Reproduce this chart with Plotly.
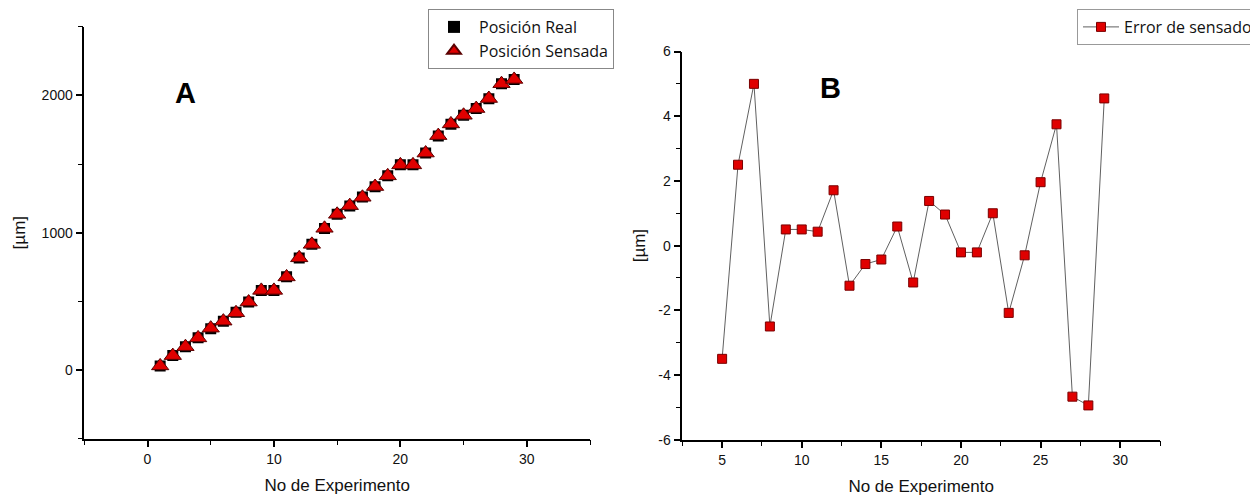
import plotly.graph_objects as go

# ---- Data ----
experimento_A = list(range(1, 30))
posicion_real = [30, 105, 170, 235, 300, 355, 420, 495, 580, 580, 680, 815, 915, 1030,
                 1135, 1195, 1260, 1335, 1415, 1495, 1495, 1580, 1705, 1790, 1855, 1905,
                 1975, 2085, 2115]
posicion_sensada = [30, 105, 170, 234, 305, 356, 417, 495, 580, 580, 678, 817, 915, 1032,
                    1134, 1197, 1258, 1336, 1414, 1494, 1494, 1580, 1707, 1792, 1855, 1904,
                    1977, 2085, 2116]

experimento_B = list(range(5, 30))
error_sensado = [-3.5, 2.5, 5.0, -2.5, 0.5, 0.5, 0.43, 1.71, -1.24, -0.57, -0.43, 0.59,
                 -1.14, 1.38, 0.96, -0.21, -0.21, 1.0, -2.08, -0.3, 1.96, 3.75, -4.67,
                 -4.94, 4.55]

# tick labels of panel B's y axis (hyphen-minus as in the original)
y2_tickvals = [-6, -4, -2, 0, 2, 4, 6]
y2_ticktext = ["-6", "-4", "-2", "0", "2", "4", "6"]

# The page body has an 8px margin, so the figure starts at (8, 8) in the window.
OFF = 8
W, H = 1258 - OFF, 499 - OFF
FONT = "Liberation Sans, Arial, sans-serif"
LEGFONT = "Open Sans, DejaVu Sans, sans-serif"


def px(x):
    return (x - OFF) / W


def py(y):
    return 1 - (y - OFF) / H


fig = go.Figure()

fig.add_trace(go.Scatter(
    x=experimento_A, y=posicion_real, mode="markers", name="Posición Real",
    marker=dict(symbol="square", size=11, color="black", line=dict(width=0)),
    xaxis="x", yaxis="y", legend="legend"))
fig.add_trace(go.Scatter(
    x=experimento_A, y=posicion_sensada, mode="markers", name="Posición Sensada",
    marker=dict(symbol="triangle-up", size=15, color="#e00000",
                line=dict(width=1, color="#5a0000")),
    xaxis="x", yaxis="y", legend="legend"))
fig.add_trace(go.Scatter(
    x=experimento_B, y=error_sensado, mode="lines+markers", name="Error de sensado",
    line=dict(color="#606060", width=1),
    marker=dict(symbol="square", size=9, color="#e00000",
                line=dict(width=1, color="#7a0000")),
    xaxis="x2", yaxis="y2", legend="legend2"))

axis_common = dict(showline=True, linecolor="black", linewidth=1.5, showgrid=False,
                   zeroline=False, ticks="outside", ticklen=7, tickwidth=1.5,
                   tickcolor="black", tickfont=dict(size=14, family=FONT, color="#111"),
                   automargin=False)

fig.update_layout(
    width=W, height=H,
    margin=dict(l=0, r=0, t=0, b=0, autoexpand=False),
    paper_bgcolor="white", plot_bgcolor="white",
    font=dict(family=FONT, color="#111"),
    xaxis=dict(domain=[px(84.3), px(590)], anchor="y", range=[-5, 35], tick0=0, dtick=10,
               minor=dict(dtick=5, ticks="outside", ticklen=5, tickwidth=1.2,
                          tickcolor="black", showgrid=False),
               title=dict(text="No de Experimento", font=dict(size=17, family=FONT),
                          standoff=13),
               **axis_common),
    yaxis=dict(domain=[py(438.7), py(26.7)], anchor="x", range=[-500, 2500],
               tick0=0, dtick=1000,
               minor=dict(dtick=500, ticks="outside", ticklen=5, tickwidth=1.2,
                          tickcolor="black", showgrid=False),
               title=dict(text="[µm]", font=dict(size=17, family=FONT), standoff=12),
               **axis_common),
    xaxis2=dict(domain=[px(682.3), px(1160)], anchor="y2", range=[2.5, 32.5], tick0=0,
                dtick=5,
                minor=dict(dtick=2.5, ticks="outside", ticklen=5, tickwidth=1.2,
                           tickcolor="black", showgrid=False),
                title=dict(text="No de Experimento", font=dict(size=17, family=FONT),
                           standoff=13),
                **axis_common),
    yaxis2=dict(domain=[py(439.7), py(51.5)], anchor="x2", range=[-6, 6],
                tickmode="array", tickvals=y2_tickvals, ticktext=y2_ticktext,
                minor=dict(dtick=1, tick0=0, ticks="outside", ticklen=5, tickwidth=1.2,
                           tickcolor="black", showgrid=False),
                title=dict(text="[µm]", font=dict(size=17, family=FONT), standoff=8),
                **axis_common),
    showlegend=True,
    legend=dict(x=px(428), xanchor="left", y=py(9), yanchor="top",
                bordercolor="#888888", borderwidth=1, bgcolor="white",
                font=dict(size=16, family=LEGFONT, color="#111"), tracegroupgap=0,
                itemsizing="constant", itemwidth=40),
    legend2=dict(x=px(1077), xanchor="left", y=py(9), yanchor="top",
                 bordercolor="#999999", borderwidth=1, bgcolor="white",
                 font=dict(size=16, family=LEGFONT, color="#111"), itemwidth=36),
    annotations=[
        dict(text="<b>A</b>", x=px(172.7), y=py(75), xref="paper", yref="paper",
             showarrow=False, font=dict(size=29, family=FONT, color="black")),
        dict(text="<b>B</b>", x=px(830), y=py(70), xref="paper", yref="paper",
             showarrow=False, font=dict(size=29, family=FONT, color="black")),
    ],
)

fig.write_html("out.html")
